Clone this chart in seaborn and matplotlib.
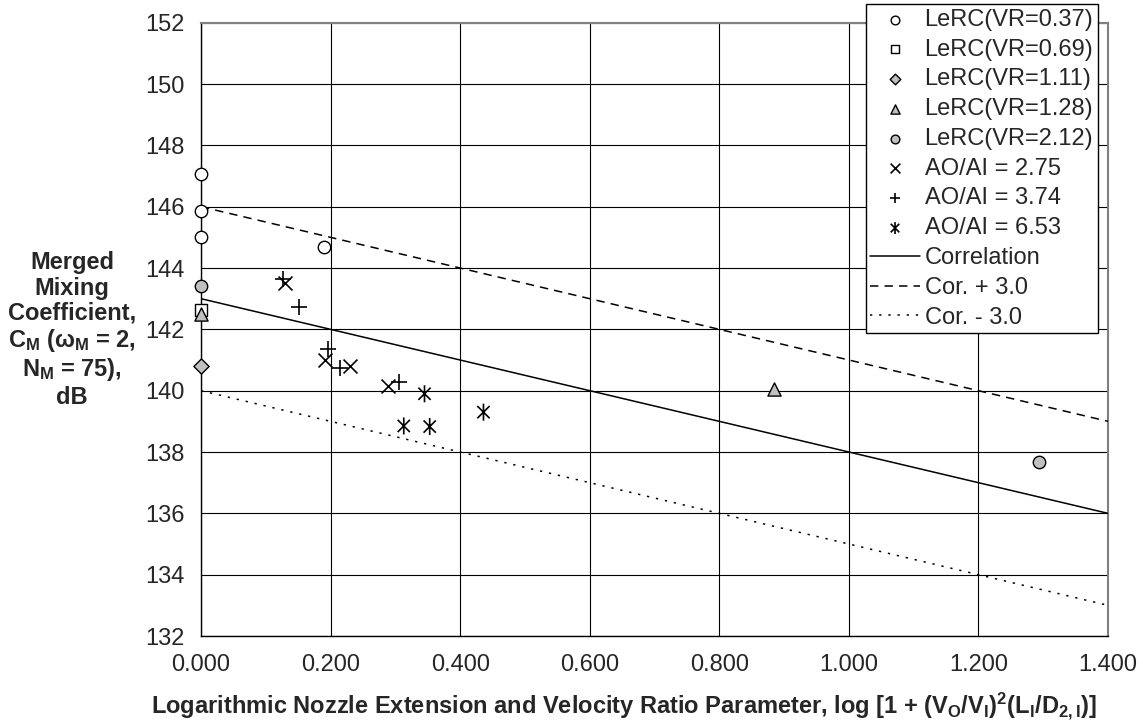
import matplotlib
matplotlib.use("Agg")
import matplotlib.pyplot as plt
from matplotlib.path import Path
import numpy as np
import pandas as pd
import seaborn as sns

# ---- data -------------------------------------------------------------
lerc_037_x = [0.000, 0.000, 0.000, 0.190]
lerc_037_y = [147.05, 145.85, 145.00, 144.70]
lerc_069_x = [0.000]
lerc_069_y = [142.63]
lerc_111_x = [0.000]
lerc_111_y = [140.82]
lerc_128_x = [0.000, 0.884]
lerc_128_y = [142.50, 140.05]
lerc_212_x = [0.000, 1.293]
lerc_212_y = [143.42, 137.69]
ao_275_x = [0.129, 0.192, 0.230, 0.289]
ao_275_y = [143.50, 141.00, 140.82, 140.16]
ao_374_x = [0.126, 0.151, 0.196, 0.214, 0.305]
ao_374_y = [143.65, 142.74, 141.35, 140.73, 140.28]
ao_653_x = [0.313, 0.345, 0.353, 0.436]
ao_653_y = [138.85, 139.90, 138.83, 139.30]

corr_x = [0.0, 1.4]
corr_y = [143.0, 136.0]
corr_offset = 3.0

x_ticks = [0.0, 0.2, 0.4, 0.6, 0.8, 1.0, 1.2, 1.4]
y_ticks = [132, 134, 136, 138, 140, 142, 144, 146, 148, 150, 152]

# ---- style ------------------------------------------------------------
sns.set_theme(style="white")
plt.rcParams["font.family"] = ["Liberation Sans", "DejaVu Sans"]
plt.rcParams["mathtext.fontset"] = "custom"
plt.rcParams["mathtext.rm"] = "Liberation Sans:bold"
plt.rcParams["mathtext.it"] = "Liberation Sans:bold"
plt.rcParams["mathtext.bf"] = "Liberation Sans:bold"

FS = 17
W, H = 1143, 725
fig = plt.figure(figsize=(W / 100, H / 100), dpi=100)
ax = fig.add_axes([201 / W, 1 - 636 / H, 907 / W, 613.3 / H])

grey = "#C0C0C0"

# six-spoke star: an x with a vertical bar
star = Path(
    [(0, -1), (0, 1), (-0.72, -0.72), (0.72, 0.72), (-0.72, 0.72), (0.72, -0.72)],
    [Path.MOVETO, Path.LINETO, Path.MOVETO, Path.LINETO, Path.MOVETO, Path.LINETO],
)

# ---- correlation lines ------------------------------------------------
lines = [
    ("Correlation", 0.0, "-"),
    ("Cor. + 3.0", corr_offset, (0, (5.5, 4))),
    ("Cor. - 3.0", -corr_offset, (0, (1.5, 4.5))),
]
handles = {}
for name, off, ls in lines:
    df = pd.DataFrame({"x": corr_x, "y": np.array(corr_y) + off})
    sns.lineplot(data=df, x="x", y="y", ax=ax, color="black", lw=1.1,
                 linestyle=ls, label=name, zorder=3)
    handles[name] = ax.get_lines()[-1]

# ---- filled symbols ---------------------------------------------------
filled = [
    ("LeRC(VR=0.37)", lerc_037_x, lerc_037_y, "o", "white", 80),
    ("LeRC(VR=0.69)", lerc_069_x, lerc_069_y, "s", "white", 80),
    ("LeRC(VR=1.11)", lerc_111_x, lerc_111_y, "D", grey, 60),
    ("LeRC(VR=1.28)", lerc_128_x, lerc_128_y, "^", grey, 90),
    ("LeRC(VR=2.12)", lerc_212_x, lerc_212_y, "o", grey, 80),
]
for name, xs, ys, mk, fc, s in filled:
    df = pd.DataFrame({"x": xs, "y": ys})
    sns.scatterplot(data=df, x="x", y="y", ax=ax, marker=mk, s=s,
                    facecolor=fc, edgecolor="black", linewidth=1.0,
                    label=name, zorder=4, clip_on=False)
    handles[name] = ax.collections[-1]

# ---- line-art symbols -------------------------------------------------
for name, xs, ys, mk, s in [("AO/AI = 2.75", ao_275_x, ao_275_y, "x", 100),
                            ("AO/AI = 3.74", ao_374_x, ao_374_y, "+", 120)]:
    df = pd.DataFrame({"x": xs, "y": ys})
    sns.scatterplot(data=df, x="x", y="y", ax=ax, marker=mk, s=s,
                    color="black", linewidth=1.2, label=name, zorder=4,
                    clip_on=False)
    handles[name] = ax.collections[-1]

df = pd.DataFrame({"x": ao_653_x, "y": ao_653_y})
sns.scatterplot(data=df, x="x", y="y", ax=ax, marker=star, s=150,
                facecolor="none", edgecolor="black", linewidth=1.2,
                label="AO/AI = 6.53", zorder=4, clip_on=False)
handles["AO/AI = 6.53"] = ax.collections[-1]

# ---- axes -------------------------------------------------------------
ax.set_xlim(0, 1.4)
ax.set_ylim(132, 152)
ax.set_xticks(x_ticks)
ax.set_xticklabels([f"{v:.3f}" for v in x_ticks])
ax.set_yticks(y_ticks)
ax.set_yticklabels([str(v) for v in y_ticks])
ax.set_xlabel("")
ax.set_ylabel("")
ax.grid(True, color="black", lw=0.8, zorder=0)
ax.set_axisbelow(True)
ax.tick_params(axis="both", which="major", direction="out", length=5,
               width=0.8, color="black", labelsize=FS)
ax.tick_params(axis="x", pad=8)
ax.tick_params(axis="y", pad=7)
for side in ("left", "bottom"):
    ax.spines[side].set_color("black")
    ax.spines[side].set_linewidth(1.0)
for side in ("top", "right"):
    ax.spines[side].set_color("#808080")
    ax.spines[side].set_linewidth(1.5)

order = ["LeRC(VR=0.37)", "LeRC(VR=0.69)", "LeRC(VR=1.11)", "LeRC(VR=1.28)",
         "LeRC(VR=2.12)", "AO/AI = 2.75", "AO/AI = 3.74", "AO/AI = 6.53",
         "Correlation", "Cor. + 3.0", "Cor. - 3.0"]
leg = ax.legend([handles[k] for k in order], order, loc="upper right",
                bbox_to_anchor=(1098 / W, 1 - 4 / H), bbox_transform=fig.transFigure,
                borderaxespad=0, fontsize=FS, frameon=True, fancybox=False,
                framealpha=1, edgecolor="black", markerscale=0.7,
                handlelength=2.1, handletextpad=0.2, borderpad=0.2,
                labelspacing=0.33)
leg.get_frame().set_linewidth(1.0)
leg.set_zorder(10)

fig.text(72 / W, 1 - 330 / H,
         "Merged\nMixing\nCoefficient,\nC$_\\mathregular{M}$ (ω$_\\mathregular{M}$ = 2,\n"
         "N$_\\mathregular{M}$ = 75),\ndB",
         ha="center", va="center", multialignment="center",
         fontsize=FS, fontweight="bold", linespacing=1.12)
fig.text(624 / W, 1 - 706 / H,
         "Logarithmic Nozzle Extension and Velocity Ratio Parameter, "
         "log [1 + (V$_\\mathregular{O}$/V$_\\mathregular{I}$)$^\\mathregular{2}$"
         "(L$_\\mathregular{I}$/D$_\\mathregular{2,I}$)]",
         ha="center", va="center", fontsize=FS, fontweight="bold")

fig.savefig("out.png", dpi=100, facecolor="white")
